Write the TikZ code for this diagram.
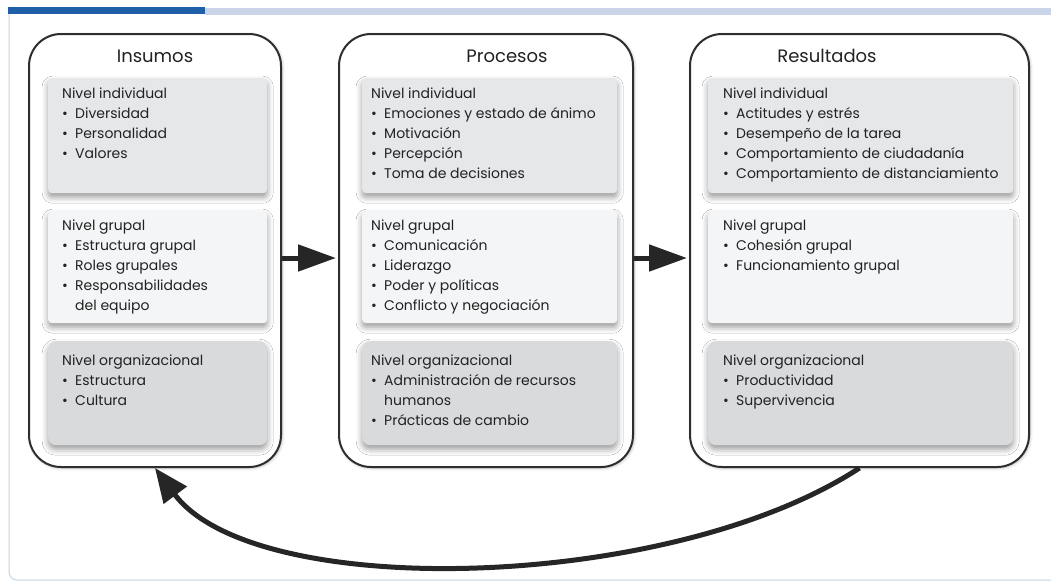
\documentclass[tikz,border=0pt]{standalone}
\usepackage{fontspec}
\setmainfont{Poppins}
\usetikzlibrary{arrows.meta,shadows.blur}

\definecolor{barblue}{HTML}{1F5FA8}
\definecolor{lineblue}{HTML}{C9D4E9}
\definecolor{framegray}{HTML}{C3D3E3}
\definecolor{boxline}{HTML}{2E2E2E}
\definecolor{indfill}{HTML}{E6E7E9}
\definecolor{grpfill}{HTML}{F4F5F6}
\definecolor{orgfill}{HTML}{D9DADC}
\definecolor{textgray}{HTML}{222222}

\newcommand{\itm}[1]{\makebox[13pt][l]{\textbullet}#1}
\newcommand{\cnt}[1]{\hspace*{13pt}#1}

\tikzset{
  outerbox/.style={draw=boxline, line width=2pt, fill=white, rounded corners=32pt, anchor=north west,
    blur shadow={shadow xshift=1pt, shadow yshift=-1pt, shadow opacity=30, shadow blur radius=3pt}},
  panel/.style={rounded corners=4pt, anchor=north west, inner sep=0pt,
    blur shadow={shadow xshift=0pt, shadow yshift=-4pt, shadow opacity=40, shadow blur radius=6pt}},
  indpanel/.style={panel, fill=indfill},
  grppanel/.style={panel, fill=grpfill},
  orgpanel/.style={panel, fill=orgfill, rounded corners=8pt},
  coltitle/.style={font=\fontsize{18}{20}\selectfont, text=textgray},
  txt/.style={anchor=north west, align=left, inner sep=0pt, font=\fontsize{14}{20}\selectfont, text=textgray},
  fwdarrow/.style={line width=5pt, draw=black!85, shorten >=2pt, -{Triangle[length=38pt,width=26pt]}},
  feedback/.style={line width=5pt, draw=black!85, -{Triangle[length=34pt,width=28pt]}}
}

\begin{document}
\begin{tikzpicture}[x=1pt,y=-1pt]
  \useasboundingbox (0,0) rectangle (1051,582);

  % page frame
  \fill[barblue] (8,7) rectangle (205,14);
  \fill[lineblue] (205,8) rectangle (1051,15);
  \draw[framegray, line width=1pt, rounded corners=8pt] (9,14) -- (9,580) -- (1051,580);

  % outer boxes
  \node[outerbox, minimum width=252pt, minimum height=433pt] (insumos) at (28,33) {};
  \node[outerbox, minimum width=294pt, minimum height=433pt] (procesos) at (338,33) {};
  \node[outerbox, minimum width=339pt, minimum height=433pt] (resultados) at (689,33) {};

  \node[coltitle] (insumostit) at (155,56) {Insumos};
  \node[coltitle] (procesostit) at (507,56) {Procesos};
  \node[coltitle] (resultadostit) at (827,56) {Resultados};

  % Insumos
  \node[indpanel, minimum width=219pt, minimum height=115pt] (insind) at (48,78) {};
  \node[grppanel, minimum width=219pt, minimum height=112pt] (insgrp) at (48,211) {};
  \node[orgpanel, minimum width=219pt, minimum height=104pt] (insorg) at (48,341) {};
  \node[txt] (insindtxt) at (62,88) {Nivel individual\\ \itm{Diversidad}\\ \itm{Personalidad}\\ \itm{Valores}};
  \node[txt] (insgrptxt) at (62,220) {Nivel grupal\\ \itm{Estructura grupal}\\ \itm{Roles grupales}\\
    \itm{Responsabilidades}\\ \cnt{del equipo}};
  \node[txt] (insorgtxt) at (62,355) {Nivel organizacional\\ \itm{Estructura}\\ \itm{Cultura}};

  % Procesos
  \node[indpanel, minimum width=255pt, minimum height=115pt] (proind) at (362,78) {};
  \node[grppanel, minimum width=255pt, minimum height=112pt] (progrp) at (362,211) {};
  \node[orgpanel, minimum width=255pt, minimum height=104pt] (proorg) at (362,341) {};
  \node[txt] (proindtxt) at (371,88) {Nivel individual\\ \itm{Emociones y estado de ánimo}\\ \itm{Motivación}\\
    \itm{Percepción}\\ \itm{Toma de decisiones}};
  \node[txt] (progrptxt) at (371,220) {Nivel grupal\\ \itm{Comunicación}\\ \itm{Liderazgo}\\
    \itm{Poder y políticas}\\ \itm{Conflicto y negociación}};
  \node[txt] (proorgtxt) at (371,355) {Nivel organizacional\\ \itm{Administración de recursos}\\ \cnt{humanos}\\
    \itm{Prácticas de cambio}};

  % Resultados
  \node[indpanel, minimum width=305pt, minimum height=115pt] (resind) at (708,78) {};
  \node[grppanel, minimum width=305pt, minimum height=112pt] (resgrp) at (708,211) {};
  \node[orgpanel, minimum width=305pt, minimum height=104pt] (resorg) at (708,341) {};
  \node[txt] (resindtxt) at (723,88) {Nivel individual\\ \itm{Actitudes y estrés}\\ \itm{Desempeño de la tarea}\\
    \itm{Comportamiento de ciudadanía}\\ \itm{Comportamiento de distanciamiento}};
  \node[txt] (resgrptxt) at (723,220) {Nivel grupal\\ \itm{Cohesión grupal}\\ \itm{Funcionamiento grupal}};
  \node[txt] (resorgtxt) at (723,355) {Nivel organizacional\\ \itm{Productividad}\\ \itm{Supervivencia}};

  % arrows
  \draw[fwdarrow] ([yshift=-7.5pt]insumos.east) -- ([yshift=-7.5pt]procesos.west);
  \draw[fwdarrow] ([yshift=-7.5pt]procesos.east) -- ([yshift=-7.5pt]resultados.west);
  \draw[feedback] (resultados.south) .. controls (670,592) and (255,602) .. (insumos.south);
\end{tikzpicture}
\end{document}
